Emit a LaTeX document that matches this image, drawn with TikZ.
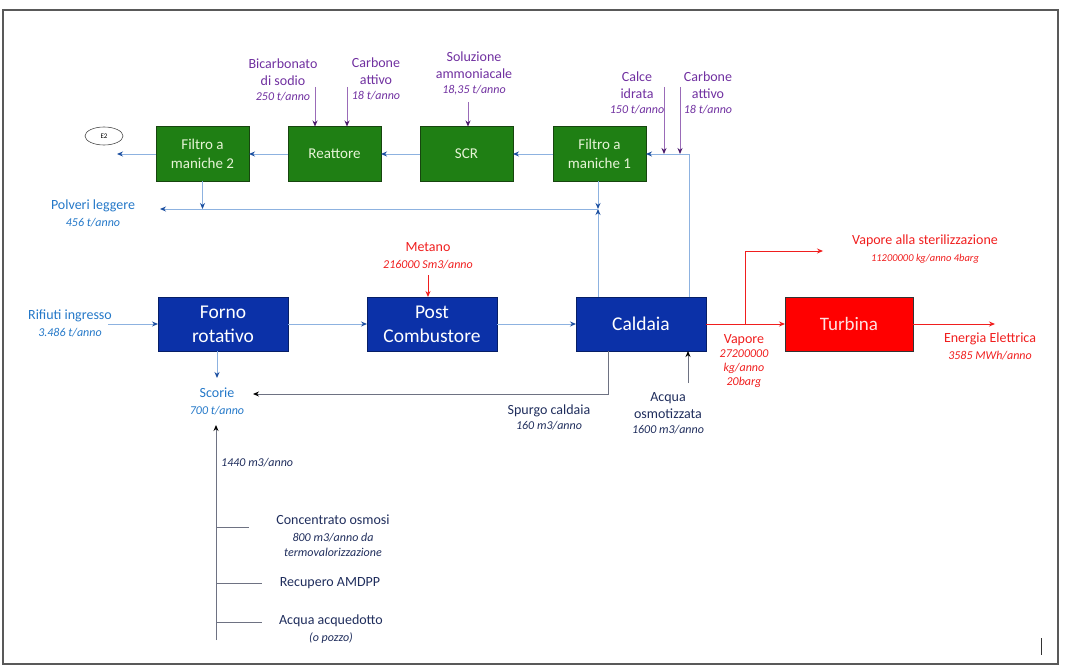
\documentclass[tikz,border=0pt]{standalone}
\usepackage{fontspec}
\setmainfont{Carlito}
\usepackage{tikz}
\usetikzlibrary{shapes.geometric, arrows.meta, positioning}
\definecolor{BoxGreen}{HTML}{1F7F14}
\definecolor{EdgeGreen}{HTML}{17450F}
\definecolor{TextGreen}{HTML}{E6F4D6}
\definecolor{BoxBlue}{HTML}{0B31A8}
\definecolor{EdgeBlue}{HTML}{061E66}
\definecolor{BoxRed}{HTML}{FF0000}
\definecolor{LineBlue}{HTML}{8DB2E0}
\definecolor{TipBlue}{HTML}{1C4FA0}
\definecolor{LblBlue}{HTML}{2478C8}
\definecolor{LblPurple}{HTML}{7030A0}
\definecolor{LinePurple}{HTML}{9A6BB8}
\definecolor{TipPurple}{HTML}{4B1A6B}
\definecolor{LblRed}{HTML}{F01E1E}
\definecolor{LblNavy}{HTML}{1F2D5C}
\definecolor{LineGray}{HTML}{6E7282}
\tikzstyle{greenbox} = [rectangle, minimum width=93pt, minimum height=55pt, text centered, align=center, draw=EdgeGreen, line width=1pt, fill=BoxGreen, text=TextGreen, font=\fontsize{15}{19}\selectfont, inner sep=2pt, outer sep=0pt]
\tikzstyle{bluebox} = [rectangle, minimum width=130pt, minimum height=54pt, text centered, align=center, draw=EdgeBlue, line width=1pt, fill=BoxBlue, text=white, font=\fontsize{19.5}{24}\selectfont, inner sep=2pt, outer sep=0pt]
\tikzstyle{redbox} = [rectangle, minimum width=128pt, minimum height=54pt, text centered, draw=black!80, line width=1pt, fill=BoxRed, text=red!12!white, font=\fontsize{19}{24}\selectfont, inner sep=2pt, outer sep=0pt]
\tikzstyle{lbl} = [align=center, inner sep=0pt, font=\fontsize{14}{17}\selectfont]
\tikzstyle{gasarrow} = [draw=LineBlue, line width=0.9pt, -{Stealth[length=6pt, width=5pt, color=TipBlue]}]
\tikzstyle{gasline} = [draw=LineBlue, line width=0.9pt]
\tikzstyle{feedarrow} = [draw=LinePurple, line width=0.9pt, -{Stealth[length=6pt, width=5pt, color=TipPurple]}]
\tikzstyle{redarrow} = [draw=LblRed, line width=0.9pt, -{Stealth[length=6pt, width=5pt, color=LblRed]}]
\tikzstyle{darkarrow} = [draw=LineGray, line width=0.9pt, -{Stealth[length=6pt, width=5pt, color=black]}]
\tikzstyle{darkline} = [draw=LineGray, line width=0.9pt]
\newcommand{\amt}[1]{\fontsize{12}{14}\selectfont\itshape #1}

\begin{document}
\begin{tikzpicture}[x=1pt, y=-1pt]
\useasboundingbox (0,0) rectangle (1067,668);
\draw [black!65, line width=1.3pt] (3,10) rectangle (1058,664);
\draw [black!80, line width=1pt] (1041,638) -- (1041,655);

% flue gas treatment line
\node (f2) [greenbox] at (202.5,154) {Filtro a\\maniche 2};
\node (reat) [greenbox, right=39pt of f2] {Reattore};
\node (scr) [greenbox, right=39pt of reat] {SCR};
\node (f1) [greenbox, right=40pt of scr] {Filtro a\\maniche 1};

% main line
\node (forno) [bluebox] at (223,324) {Forno\\rotativo};
\node (post) [bluebox, right=79pt of forno] {Post\\Combustore};
\node (cald) [bluebox, right=79pt of post] {Caldaia};
\node (turb) [redbox, right=79pt of cald] {Turbina};

% reagents
\node (bic) [lbl, text=LblPurple] at (283,80) {Bicarbonato\\di sodio\\[-2pt]\amt{250 t/anno}};
\node (carb1) [lbl, text=LblPurple] at (376,79) {Carbone\\attivo\\[-2pt]\amt{18 t/anno}};
\node (sol) [lbl, text=LblPurple] at (474,73) {Soluzione\\ammoniacale\\[-2pt]\amt{18,35 t/anno}};
\node (calce) [lbl, text=LblPurple] at (637,93) {Calce\\idrata\\[-2pt]\amt{150 t/anno}};
\node (carb2) [lbl, text=LblPurple] at (708,93) {Carbone\\attivo\\[-2pt]\amt{18 t/anno}};
\coordinate (bictop) at (315,87);
\coordinate (carb1top) at (347,87);
\coordinate (soltop) at (468,102);
\coordinate (calcetop) at (664,87);
\coordinate (carb2top) at (680,87);
\draw [feedarrow] (bictop) -- (bictop |- reat.north);
\draw [feedarrow] (carb1top) -- (carb1top |- reat.north);
\draw [feedarrow] (soltop) -- (soltop |- scr.north);
\draw [feedarrow] (calcetop) -- (calcetop |- f1.east);
\draw [feedarrow] (carb2top) -- (carb2top |- f1.east);

% gas path
\coordinate (cr) at ([xshift=-17pt]cald.north east);
\draw [gasarrow] (cr) |- (f1.east);
\draw [gasarrow] (f1) -- (scr);
\draw [gasarrow] (scr) -- (reat);
\draw [gasarrow] (reat) -- (f2);
\coordinate (e2out) at (117,154);
\draw [gasarrow] (f2) -- (e2out);
\node (e2) [ellipse, draw=black!70, line width=0.6pt, minimum width=38pt, minimum height=18pt, inner sep=0pt, font=\fontsize{7}{8}\selectfont] at (104,136) {E2};

% fly ash
\node (polv) [lbl, text=LblBlue] at (93,213) {Polveri leggere\\\amt{456 t/anno}};
\coordinate (pol) at (160,209);
\coordinate (pj) at (598,209);
\draw [gasarrow] (f2.south) -- (f2.south |- pj);
\draw [gasarrow] (f1.south -| pj) -- (pj);
\draw [gasarrow] (cald.north -| pj) -- (pj);
\draw [gasarrow] (pj) -- (pol);

% methane
\node (met) [lbl, text=LblRed] at (428,256) {Metano\\\amt{216000 Sm3/anno}};
\coordinate (mettop) at (428,275);
\draw [redarrow] (mettop) -- (mettop |- post.north);

% waste input and main flow
\node (rif) [lbl, text=LblBlue] at (70,323) {Rifiuti ingresso\\\amt{3.486 t/anno}};
\coordinate (rifin) at (108,324);
\draw [gasarrow] (rifin) -- (forno.west);
\draw [gasarrow] (forno) -- (post);
\draw [gasarrow] (post) -- (cald);

% slag
\node (scor) [lbl, text=LblBlue] at (217,401) {Scorie\\\amt{700 t/anno}};
\draw [gasarrow] ([xshift=-6pt]forno.south) -- ++(0,27);
\coordinate (sp) at (253,394);
\draw [darkarrow] ([xshift=-33pt]cald.south) |- (sp);
\node (spurgo) [lbl, text=LblNavy] at (549,417) {Spurgo caldaia\\[-2pt]\amt{160 m3/anno}};
\node (acqua) [lbl, text=LblNavy] at (668,413) {Acqua\\osmotizzata\\[-2pt]\amt{1600 m3/anno}};
\coordinate (aqin) at (688,383);
\draw [darkarrow] (aqin) -- (aqin |- cald.south);

% steam and power
\draw [redarrow] (cald) -- (turb);
\coordinate (vbr) at (745,324);
\coordinate (vst) at (823,251);
\draw [redarrow] (vbr) |- (vst);
\node (vap) [lbl, text=LblRed] at (744,361) {Vapore\\[-3pt]\amt{27200000}\\[-3pt]\amt{kg/anno}\\[-3pt]\amt{20barg}};
\node (vaps) [lbl, text=LblRed] at (925,249) {Vapore alla sterilizzazione\\\fontsize{10.5}{13}\selectfont\itshape 11200000 kg/anno 4barg};
\coordinate (eout) at (995,324);
\draw [redarrow] (turb) -- (eout);
\node (ener) [lbl, text=LblRed] at (990,346) {Energia Elettrica\\\amt{3585 MWh/anno}};

% water supply to slag
\coordinate (wb) at (216,640);
\coordinate (wt) at (216,425);
\draw [darkarrow] (wb) -- (wt);
\node (q1440) [lbl, text=LblNavy, anchor=west] at (221,463) {\amt{1440 m3/anno}};
\coordinate (s1) at (249,527);
\coordinate (s2) at (262,583);
\coordinate (s3) at (262,622);
\draw [darkline] (s1 -| wb) -- (s1);
\draw [darkline] (s2 -| wb) -- (s2);
\draw [darkline] (s3 -| wb) -- (s3);
\node (conc) [lbl, text=LblNavy] at (333,536) {Concentrato osmosi\\\amt{800 m3/anno da}\\[-2pt]\amt{termovalorizzazione}};
\node (recup) [lbl, text=LblNavy] at (330,583) {Recupero AMDPP};
\node (acqued) [lbl, text=LblNavy] at (331,629) {Acqua acquedotto\\\amt{(o pozzo)}};

\end{tikzpicture}
\end{document}
